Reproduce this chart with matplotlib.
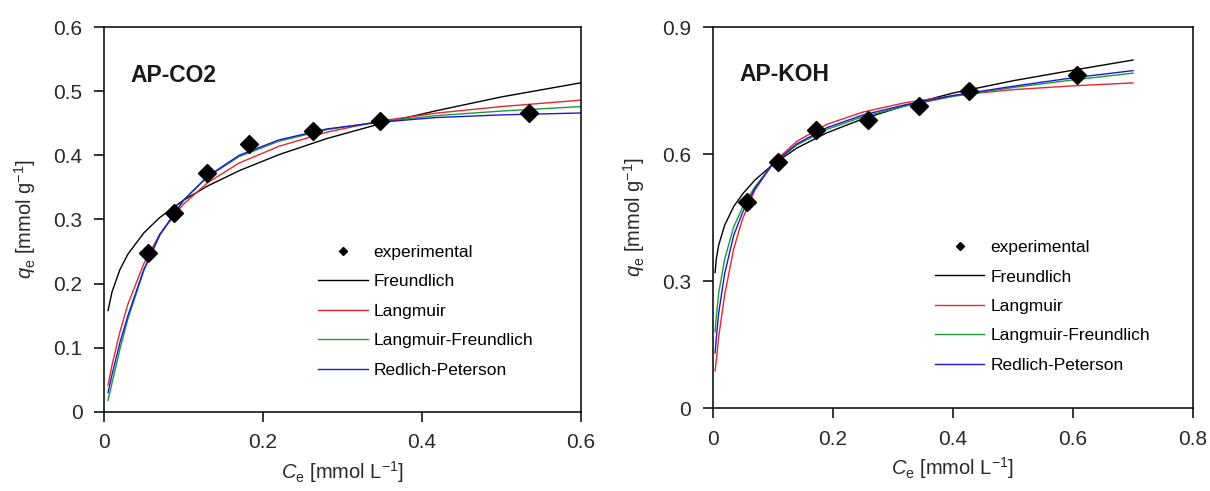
import numpy as np
import matplotlib
matplotlib.use("Agg")
import matplotlib.pyplot as plt

plt.rcParams['font.family'] = ['Liberation Sans', 'DejaVu Sans']
plt.rcParams['mathtext.fontset'] = 'custom'
plt.rcParams['mathtext.rm'] = 'Liberation Sans'
plt.rcParams['mathtext.it'] = 'Liberation Sans:italic'

# ---- AP-CO2 data ----
co2_ce_exp = [0.055, 0.088, 0.129, 0.182, 0.263, 0.347, 0.535]
co2_qe_exp = [0.248, 0.310, 0.372, 0.417, 0.438, 0.453, 0.466]

co2_ce_fit = [0.005, 0.01, 0.02, 0.03, 0.05, 0.07, 0.1, 0.13, 0.17, 0.22, 0.28, 0.35, 0.42, 0.5, 0.6]
co2_freundlich = [0.158, 0.187, 0.222, 0.246, 0.279, 0.303, 0.330, 0.352, 0.376, 0.401, 0.426, 0.450, 0.470, 0.491, 0.513]
co2_langmuir = [0.042, 0.073, 0.125, 0.168, 0.231, 0.277, 0.324, 0.357, 0.388, 0.414, 0.436, 0.454, 0.466, 0.476, 0.486]
co2_lang_freund = [0.018, 0.045, 0.098, 0.145, 0.220, 0.275, 0.330, 0.366, 0.398, 0.422, 0.440, 0.453, 0.462, 0.469, 0.476]
co2_redlich = [0.030, 0.058, 0.108, 0.150, 0.222, 0.276, 0.330, 0.367, 0.400, 0.424, 0.441, 0.452, 0.459, 0.463, 0.466]

# ---- AP-KOH data ----
koh_ce_exp = [0.057, 0.108, 0.172, 0.258, 0.343, 0.427, 0.607]
koh_qe_exp = [0.487, 0.581, 0.657, 0.680, 0.713, 0.749, 0.787]

koh_ce_fit = [0.004, 0.006, 0.01, 0.02, 0.035, 0.05, 0.07, 0.1, 0.14, 0.19, 0.25, 0.32, 0.4, 0.5, 0.6, 0.7]
koh_freundlich = [0.32, 0.352, 0.385, 0.432, 0.476, 0.506, 0.538, 0.575, 0.614, 0.650, 0.683, 0.714, 0.744, 0.773, 0.798, 0.822]
koh_langmuir = [0.088, 0.112, 0.168, 0.268, 0.376, 0.448, 0.514, 0.578, 0.630, 0.670, 0.699, 0.721, 0.738, 0.752, 0.761, 0.768]
koh_lang_freund = [0.18, 0.215, 0.272, 0.352, 0.428, 0.475, 0.522, 0.576, 0.621, 0.658, 0.688, 0.713, 0.736, 0.757, 0.775, 0.791]
koh_redlich = [0.13, 0.165, 0.225, 0.318, 0.408, 0.463, 0.518, 0.576, 0.624, 0.662, 0.692, 0.716, 0.738, 0.760, 0.780, 0.797]

fig = plt.figure(figsize=(12.1, 4.91), dpi=100)
ax1 = fig.add_axes([0.086, 0.161, 0.394, 0.784])
ax2 = fig.add_axes([0.589, 0.169, 0.397, 0.776])

panels = [
    (ax1, 'AP-CO2', co2_ce_exp, co2_qe_exp, co2_ce_fit,
     [co2_freundlich, co2_langmuir, co2_lang_freund, co2_redlich],
     (0, 0.6), [0, 0.2, 0.4, 0.6], ['0', '0.2', '0.4', '0.6'],
     (0, 0.6), [0, 0.1, 0.2, 0.3, 0.4, 0.5, 0.6], ['0', '0.1', '0.2', '0.3', '0.4', '0.5', '0.6'],
     (0.449, 0.434)),
    (ax2, 'AP-KOH', koh_ce_exp, koh_qe_exp, koh_ce_fit,
     [koh_freundlich, koh_langmuir, koh_lang_freund, koh_redlich],
     (0, 0.8), [0, 0.2, 0.4, 0.6, 0.8], ['0', '0.2', '0.4', '0.6', '0.8'],
     (0, 0.9), [0, 0.3, 0.6, 0.9], ['0', '0.3', '0.6', '0.9'],
     (0.4625, 0.441)),
]

names = ['Freundlich', 'Langmuir', 'Langmuir-Freundlich', 'Redlich-Peterson']
colors = ['black', '#e8262b', '#1e9a35', '#1a1ad6']

for ax, title, ce, qe, ce_fit, fits, xlim, xt, xtl, ylim, yt, ytl, leg_pos in panels:
    ax.plot(ce, qe, linestyle='none', marker='D', markersize=9.5,
            color='black', label='experimental', zorder=5)
    for y, name, c in zip(fits, names, colors):
        ax.plot(ce_fit, y, color=c, lw=1.0, label=name)
    ax.set_xlim(*xlim)
    ax.set_ylim(*ylim)
    ax.set_xticks(xt)
    ax.set_xticklabels(xtl)
    ax.set_yticks(yt)
    ax.set_yticklabels(ytl)
    ax.tick_params(direction='out', length=7, width=1.1, labelsize=15,
                   labelcolor='#2a2a2a', pad=8.5)
    for s in ax.spines.values():
        s.set_linewidth(1.1)
    ax.text(0.055, 0.875, title, transform=ax.transAxes, fontsize=16.5,
            fontweight='bold', va='center', ha='left', color='#1a1a1a')
    ax.set_xlabel(r'$C_\mathrm{e}$ [mmol L$^{-1}$]', fontsize=14.5, color='#2a2a2a', labelpad=5)
    ax.set_ylabel(r'$q_\mathrm{e}$ [mmol g$^{-1}$]', fontsize=14.5, color='#2a2a2a', labelpad=11)
    ax.legend(loc='upper left', bbox_to_anchor=leg_pos, frameon=False,
              fontsize=12.5, handlelength=2.85, handletextpad=0.35,
              labelspacing=0.82, markerscale=0.45, borderpad=0,
              borderaxespad=0)

fig.savefig('out.png', dpi=100)
